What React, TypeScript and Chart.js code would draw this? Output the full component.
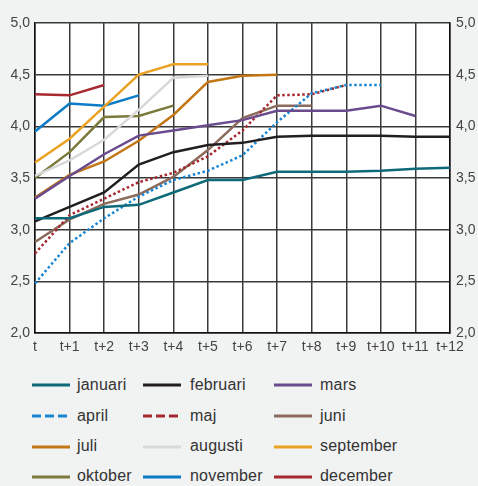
import React, { useEffect, useRef } from "react";
import { Chart, registerables } from "chart.js";

Chart.register(...registerables);

const labels = ["t", "t+1", "t+2", "t+3", "t+4", "t+5", "t+6", "t+7", "t+8", "t+9", "t+10", "t+11", "t+12"];
const yTicks = [2.0, 2.5, 3.0, 3.5, 4.0, 4.5, 5.0];

const januari = [3.11, 3.11, 3.22, 3.24, 3.36, 3.48, 3.48, 3.56, 3.56, 3.56, 3.57, 3.59, 3.6];
const februari = [3.08, 3.22, 3.36, 3.63, 3.75, 3.82, 3.84, 3.9, 3.91, 3.91, 3.91, 3.9, 3.9];
const mars = [3.3, 3.52, 3.73, 3.91, 3.96, 4.01, 4.06, 4.15, 4.15, 4.15, 4.2, 4.1];
const april = [2.48, 2.87, 3.11, 3.32, 3.48, 3.57, 3.72, 4.04, 4.32, 4.4, 4.4];
const maj = [2.77, 3.14, 3.3, 3.46, 3.55, 3.71, 3.96, 4.3, 4.31, 4.4];
const juni = [2.88, 3.1, 3.25, 3.34, 3.51, 3.77, 4.08, 4.2, 4.2];
const juli = [3.31, 3.53, 3.66, 3.86, 4.11, 4.43, 4.49, 4.5];
const augusti = [3.52, 3.67, 3.87, 4.16, 4.47, 4.49];
const september = [3.65, 3.88, 4.19, 4.5, 4.6, 4.6];
const oktober = [3.5, 3.75, 4.09, 4.1, 4.2];
const november = [3.95, 4.22, 4.2, 4.3];
const december = [4.31, 4.3, 4.4];

const seriesNames = ["januari", "februari", "mars", "april", "maj", "juni", "juli", "augusti", "september", "oktober", "november", "december"];
const seriesData = [januari, februari, mars, april, maj, juni, juli, augusti, september, oktober, november, december];
const seriesColors = ["#0e6a78", "#231f20", "#6a4c8e", "#1a85d1", "#a6282e", "#8b6b5c", "#c27614", "#d9d9d9", "#eba124", "#7b7a3c", "#0b7bc6", "#a8282f"];
const seriesDotted = [false, false, false, true, true, false, false, false, false, false, false, false];

const FONT = "'Liberation Sans', Arial, sans-serif";
const BG = "#f1f2f2";

const fmt = (v: number) => v.toFixed(1).replace(".", ",");

export default function App() {
  const ref = useRef<HTMLCanvasElement>(null);

  useEffect(() => {
    document.body.style.margin = "0";
    document.body.style.background = BG;
    const canvas = ref.current!;
    const whiteArea = {
      id: "whiteArea",
      beforeDraw(chart: any) {
        const { ctx, chartArea } = chart;
        ctx.save();
        ctx.fillStyle = "#ffffff";
        ctx.fillRect(chartArea.left, chartArea.top, chartArea.right - chartArea.left, chartArea.bottom - chartArea.top);
        ctx.restore();
      },
    };
    const chart = new Chart(canvas, {
      type: "line",
      data: {
        labels,
        datasets: seriesData.map((d, i) => ({
          label: seriesNames[i],
          data: d,
          borderColor: seriesColors[i],
          backgroundColor: seriesColors[i],
          borderWidth: 2.5,
          borderDash: seriesDotted[i] ? [2.5, 2.5] : [],
          pointRadius: 0,
          tension: 0,
          fill: false,
          yAxisID: "y",
        })),
      },
      options: {
        responsive: false,
        animation: false,
        layout: { padding: { top: 23, left: 0, right: 0, bottom: 0 } },
        plugins: { legend: { display: false }, tooltip: { enabled: false } },
        scales: {
          x: {
            type: "category",
            offset: false,
            grid: { color: "#3a3a3a", lineWidth: 1.5, drawTicks: false },
            border: { color: "#111", width: 1.5 },
            ticks: { color: "#444", font: { family: FONT, size: 14 }, padding: 6, maxRotation: 0, autoSkip: false },
            afterFit: (s: any) => { s.height = 27; },
          },
          y: {
            position: "left",
            min: 2,
            max: 5,
            afterBuildTicks: (s: any) => { s.ticks = yTicks.map((v) => ({ value: v })); },
            grid: { color: "#3a3a3a", lineWidth: 1.5, drawTicks: false },
            border: { color: "#111", width: 1.5 },
            ticks: { color: "#444", font: { family: FONT, size: 14 }, padding: 5, callback: (v: any) => fmt(Number(v)) },
            afterFit: (s: any) => { s.width = 35; },
          },
          y2: {
            position: "right",
            min: 2,
            max: 5,
            afterBuildTicks: (s: any) => { s.ticks = yTicks.map((v) => ({ value: v })); },
            grid: { display: false, drawTicks: false },
            border: { color: "#111", width: 1.5 },
            ticks: { color: "#444", font: { family: FONT, size: 14 }, padding: 6, callback: (v: any) => fmt(Number(v)) },
            afterFit: (s: any) => { s.width = 28; },
          },
        },
      },
      plugins: [whiteArea],
    } as any);
    return () => chart.destroy();
  }, []);

  const colX = [32, 143, 274];
  const textX = [77, 190, 320];
  const rowY = [385, 416, 446.5, 476.5];

  return (
    <div style={{ position: "fixed", left: 0, top: 0, width: 478, height: 486, background: BG, overflow: "hidden" }}>
      <canvas ref={ref} width={478} height={360} style={{ position: "absolute", left: 0, top: 0, width: 478, height: 360 }} />
      {seriesNames.map((name, i) => {
        const col = i % 3;
        const row = Math.floor(i / 3);
        const cy = rowY[row];
        return (
          <React.Fragment key={name}>
            <svg style={{ position: "absolute", left: colX[col], top: cy - 2 }} width={38} height={4}>
              <line x1={0} y1={2} x2={38} y2={2} stroke={seriesColors[i]} strokeWidth={3}
                strokeDasharray={seriesDotted[i] ? "9 4" : undefined} />
            </svg>
            <div style={{ position: "absolute", left: textX[col], top: cy - 10.5, lineHeight: "20px", fontFamily: FONT, fontSize: 16, letterSpacing: 0.2, color: "#333", whiteSpace: "nowrap" }}>
              {name}
            </div>
          </React.Fragment>
        );
      })}
    </div>
  );
}
